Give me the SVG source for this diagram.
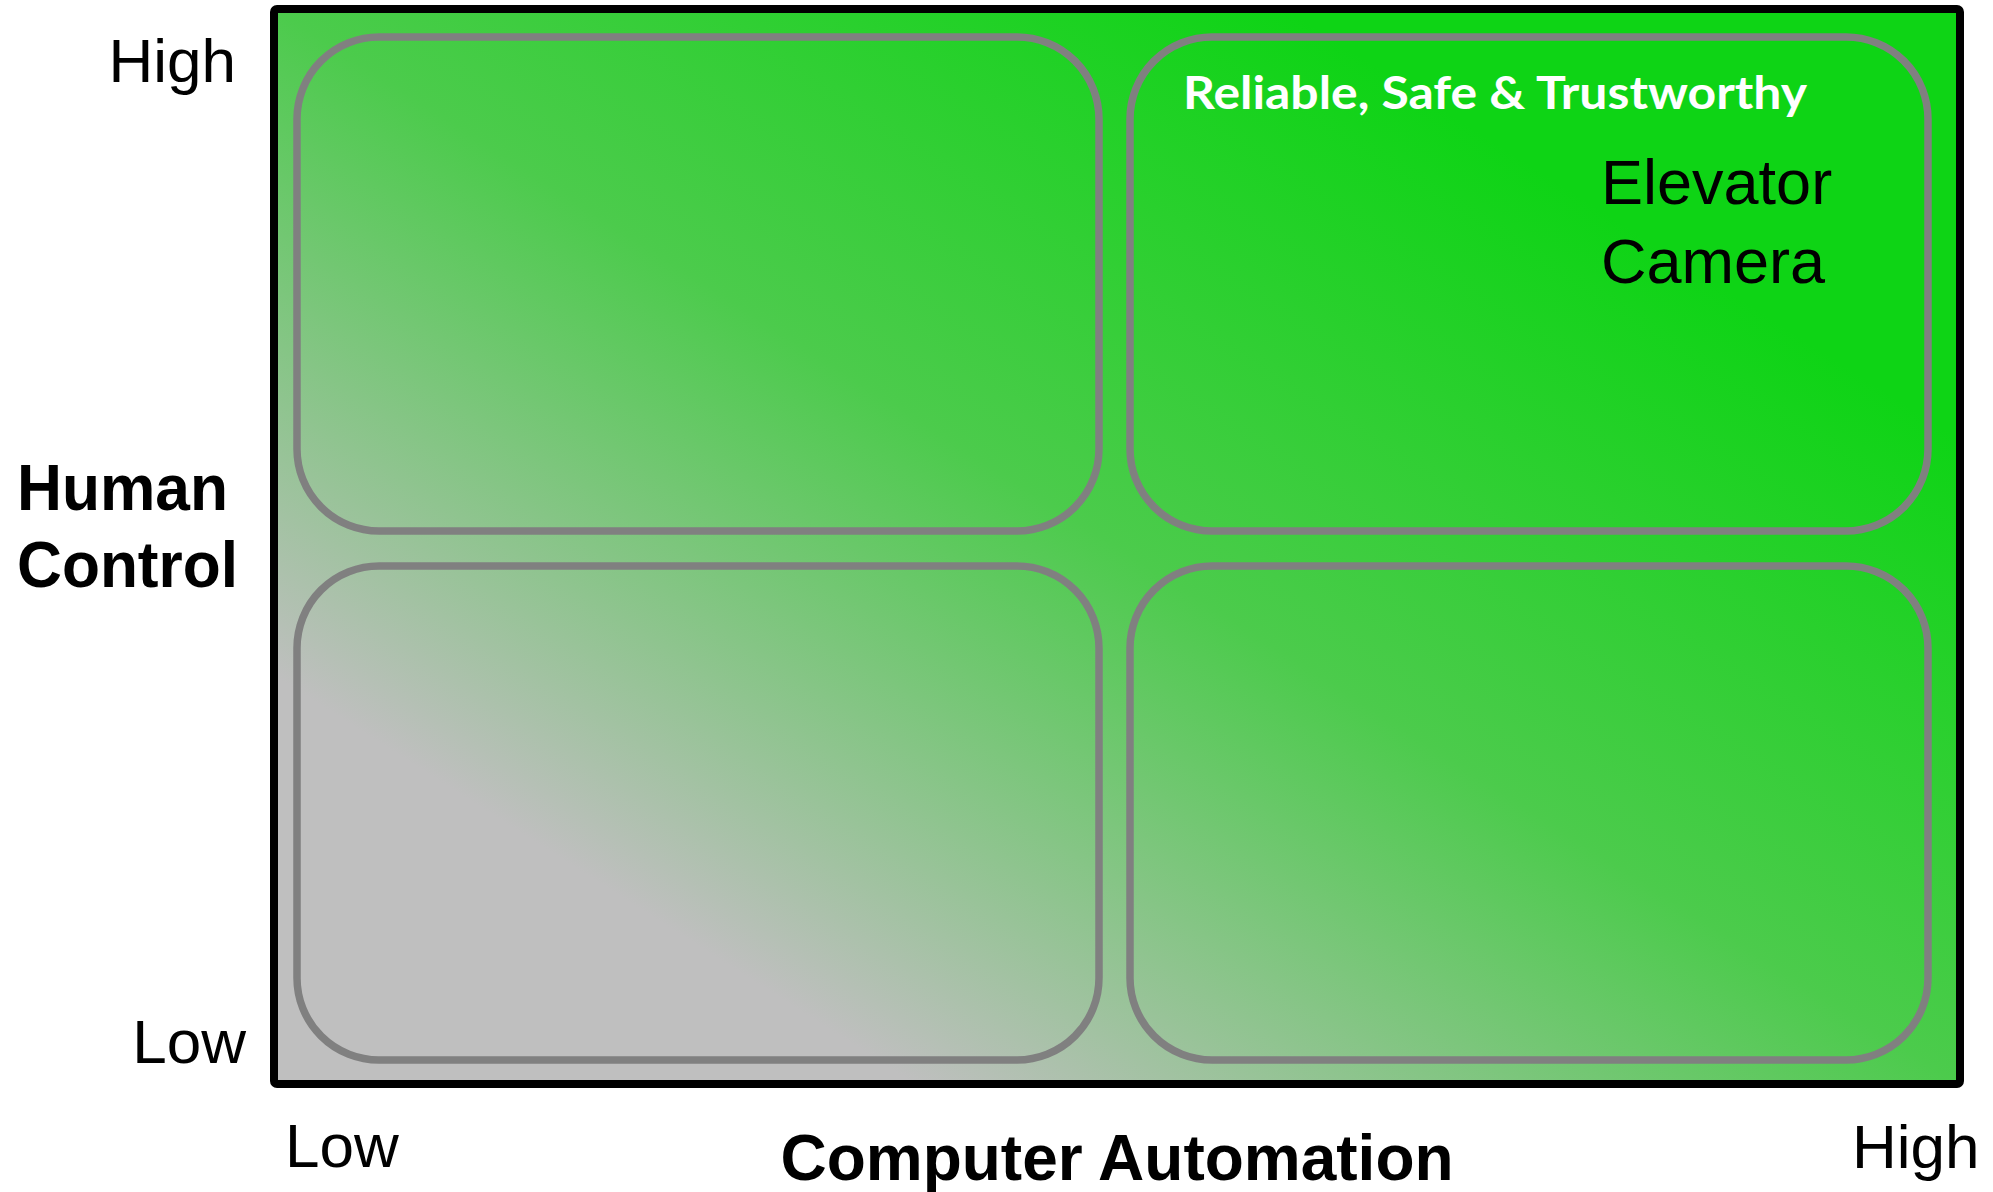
<svg xmlns="http://www.w3.org/2000/svg" width="1993" height="1192" viewBox="0 0 1993 1192">
  <defs>
    <!-- diagonal fill: grey in the low/low corner, bright green in the high/high corner -->
    <linearGradient id="field" x1="0" y1="1" x2="1" y2="0">
      <stop offset="0" stop-color="#bfbfbf"/>
      <stop offset="0.19" stop-color="#bfbfbf"/>
      <stop offset="0.5" stop-color="#4ccb4c"/>
      <stop offset="0.8" stop-color="#0ed415"/>
      <stop offset="1" stop-color="#0ed415"/>
    </linearGradient>
  </defs>
  <style>
    .axis { font-family: "Liberation Sans", Arial, sans-serif; font-size: 62px; fill: #000; }
    .title { font-family: "Liberation Sans", Arial, sans-serif; font-size: 64px; font-weight: bold; fill: #000; }
    .cell { fill: none; stroke: #808080; stroke-width: 7.5; }
    .item { font-family: "Liberation Sans", Arial, sans-serif; font-size: 63px; fill: #000; }
    .banner { font-family: Lato, "Open Sans", sans-serif; font-size: 46px; font-weight: bold; fill: #fff; }
  </style>

  <rect width="1993" height="1192" fill="#fff"/>

  <!-- plot area -->
  <g id="plot">
    <rect x="274" y="9" width="1686" height="1075" rx="3" fill="url(#field)" stroke="#000" stroke-width="8"/>
  </g>

  <!-- quadrants -->
  <g id="quadrant-low-auto-high-control">
    <rect class="cell" x="297" y="37" width="802" height="494" rx="82"/>
  </g>
  <g id="quadrant-high-auto-high-control">
    <rect class="cell" x="1130" y="37" width="798" height="494" rx="82"/>
    <text class="banner" x="1183" y="109" textLength="624" lengthAdjust="spacingAndGlyphs">Reliable, Safe &amp; Trustworthy</text>
    <text class="item" x="1601" y="204">Elevator</text>
    <text class="item" x="1601" y="283">Camera</text>
  </g>
  <g id="quadrant-low-auto-low-control">
    <rect class="cell" x="297" y="566" width="802" height="494" rx="82"/>
  </g>
  <g id="quadrant-high-auto-low-control">
    <rect class="cell" x="1130" y="566" width="798" height="494" rx="82"/>
  </g>

  <!-- vertical axis -->
  <g id="y-axis">
    <text class="axis" x="236" y="82" text-anchor="end">High</text>
    <text class="axis" x="246" y="1063" text-anchor="end">Low</text>
    <text class="title" x="17" y="510" textLength="211" lengthAdjust="spacingAndGlyphs">Human</text>
    <text class="title" x="17" y="587" textLength="221" lengthAdjust="spacingAndGlyphs">Control</text>
  </g>

  <!-- horizontal axis -->
  <g id="x-axis">
    <text class="axis" x="285" y="1167">Low</text>
    <text class="axis" x="1852" y="1168">High</text>
    <text class="title" x="1117" y="1180" text-anchor="middle">Computer Automation</text>
  </g>

  <g id="connectors"/>
</svg>
